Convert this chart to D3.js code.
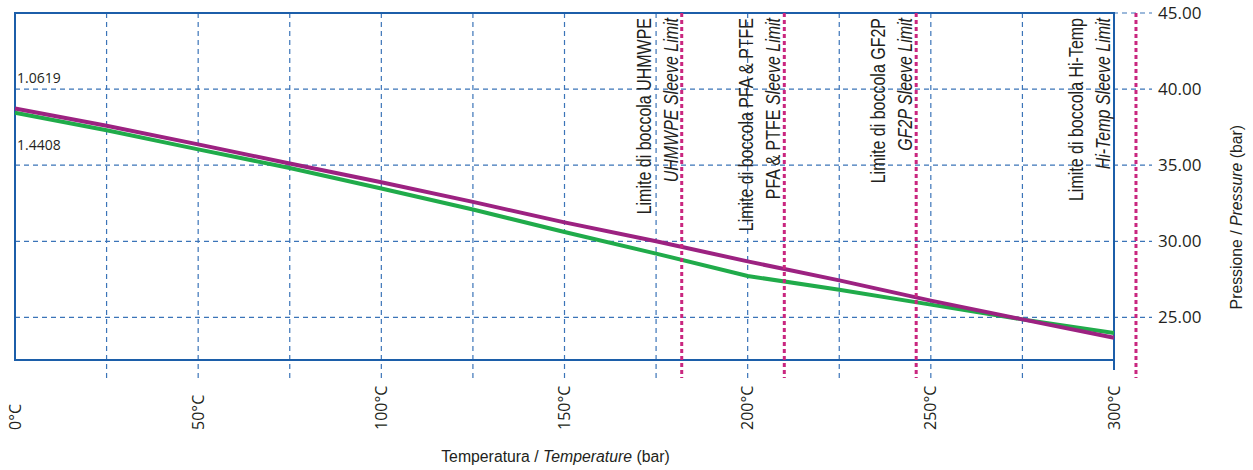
<!DOCTYPE html>
<html>
<head>
<meta charset="utf-8">
<script src="https://cdn.jsdelivr.net/npm/d3@7"></script>
<style>
    body { margin: 0; background: #fff; }
    .cond { font-family: "Liberation Sans", Arial, sans-serif; fill: #231f20; }
    .tick-lab { font-family: "Open Sans", sans-serif; fill: #231f20; }
</style>
</head>
<body>
<div id="chart"></div>
<script>
// temperature (°C) and pressure (bar)
const temps = [0, 25, 50, 75, 100, 125, 150, 175, 200, 225, 250, 275, 300];
const purpleSeries = [38.73, 37.59, 36.37, 35.11, 33.88, 32.59, 31.24, 30.0, 28.68, 27.43, 26.1, 24.87, 23.66];
const greenSeries = [38.44, 37.30, 36.04, 34.82, 33.47, 32.09, 30.61, 29.19, 27.72, 26.82, 25.84, 24.87, 23.97];

const gridTemps = [25, 50, 75, 100, 125, 150, 175, 200, 225, 250, 275];
const xTicks = [0, 50, 100, 150, 200, 250, 300];
const yTicks = [25, 30, 35, 40, 45];

const limitTemps = [182, 210, 246, 306];
const limitNames = ["UHMWPE", "PFA & PTFE", "GF2P", "Hi-Temp"];
const limitNameItalic = [true, false, true, true];

const sideNotes = ["1.0619", "1.4408"];
const sideNoteValues = [40.4, 36.0];

const W = 1253, H = 470;
const m = { top: 13, left: 15, right: 139, bottom: 110 };

const x = d3.scaleLinear().domain([0, 300]).range([m.left, W - m.right]);
const y = d3.scaleLinear().domain([22.2, 45]).range([H - m.bottom, m.top]);

const svg = d3.select("#chart").append("svg")
    .attr("width", W)
    .attr("height", H);

const blue = "#1c5ea9", gridBlue = "#3b74b8";

// vertical grid, runs a bit below the frame
svg.append("g").selectAll("line")
    .data(gridTemps)
    .join("line")
    .attr("x1", d => x(d)).attr("x2", d => x(d))
    .attr("y1", m.top).attr("y2", y.range()[0] + 18)
    .style("stroke", gridBlue)
    .style("stroke-width", 1.2)
    .style("stroke-dasharray", "5,4");

// horizontal grid, runs out to the labels
svg.append("g").selectAll("line")
    .data(yTicks)
    .join("line")
    .attr("x1", m.left).attr("x2", x(300) + 38)
    .attr("y1", d => y(d)).attr("y2", d => y(d))
    .style("stroke", gridBlue)
    .style("stroke-width", 1.2)
    .style("stroke-dasharray", "5,4");

// frame
svg.append("path")
    .attr("d", `M${x(300)},${y(45)}H${m.left}V${y.range()[0]}H${x(300)}`)
    .style("fill", "none")
    .style("stroke", blue)
    .style("stroke-width", 2);
svg.append("line")
    .attr("x1", x(300)).attr("x2", x(300))
    .attr("y1", y(45) - 1).attr("y2", y.range()[0] + 10)
    .style("stroke", blue)
    .style("stroke-width", 2);

// data lines
const line = d3.line().x(d => x(d[0])).y(d => y(d[1]));
svg.append("path")
    .datum(temps.map((t, i) => [t, greenSeries[i]]))
    .attr("d", line)
    .style("fill", "none")
    .style("stroke", "#20ab4a")
    .style("stroke-width", 4);
svg.append("path")
    .datum(temps.map((t, i) => [t, purpleSeries[i]]))
    .attr("d", line)
    .style("fill", "none")
    .style("stroke", "#9c2281")
    .style("stroke-width", 4);

// sleeve limits
svg.append("g").selectAll("line")
    .data(limitTemps)
    .join("line")
    .attr("x1", d => x(d)).attr("x2", d => x(d))
    .attr("y1", m.top).attr("y2", y.range()[0] + 18)
    .style("stroke", "#c9267f")
    .style("stroke-width", 3)
    .style("stroke-dasharray", "4,3");

// limit notes, narrow look: squeeze along the text direction
const notes = svg.append("g").attr("class", "cond")
    .style("font-size", "19.5px");
limitTemps.forEach((t, i) => {
    const bx = Math.min(x(t), x(300)) - 4;
    notes.append("text")
        .attr("transform", `translate(${bx - 27},18) rotate(-90) scale(0.82,1)`)
        .attr("text-anchor", "end")
        .text("Limite di boccola " + limitNames[i]);
    const t2 = notes.append("text")
        .attr("transform", `translate(${bx},18) rotate(-90) scale(0.82,1)`)
        .attr("text-anchor", "end");
    t2.append("tspan")
        .style("font-style", limitNameItalic[i] ? "italic" : "normal")
        .text(limitNames[i] + " ");
    t2.append("tspan").style("font-style", "italic").text("Sleeve Limit");
});

// small values on the left
svg.append("g").selectAll("text")
    .data(sideNotes)
    .join("text")
    .attr("class", "tick-lab")
    .attr("x", m.left + 2)
    .attr("y", (d, i) => y(sideNoteValues[i]))
    .style("font-size", "14px")
    .text(d => d);

// y labels
svg.append("g").selectAll("text")
    .data(yTicks)
    .join("text")
    .attr("class", "tick-lab")
    .attr("x", x(300) + 44)
    .attr("y", d => y(d))
    .attr("dy", "0.35em")
    .style("font-size", "17px")
    .text(d => d.toFixed(2));

// x labels, rotated
svg.append("g").selectAll("text")
    .data(xTicks)
    .join("text")
    .attr("class", "tick-lab")
    .attr("transform", d => `translate(${x(d)},430) rotate(-90)`)
    .attr("dy", "0.35em")
    .style("font-size", "16px")
    .text(d => d + "°C");

// axis titles
const xt = svg.append("text").attr("class", "cond")
    .attr("x", x(150) - 9).attr("y", 462)
    .attr("text-anchor", "middle")
    .style("font-size", "15.8px");
xt.append("tspan").text("Temperatura / ");
xt.append("tspan").style("font-style", "italic").text("Temperature");
xt.append("tspan").text(" (bar)");

const yt = svg.append("text").attr("class", "cond")
    .attr("transform", `translate(1242,${y(35) + 52}) rotate(-90)`)
    .attr("text-anchor", "middle")
    .style("font-size", "15.8px");
yt.append("tspan").text("Pressione / ");
yt.append("tspan").style("font-style", "italic").text("Pressure");
yt.append("tspan").text(" (bar)");
</script>
</body>
</html>
